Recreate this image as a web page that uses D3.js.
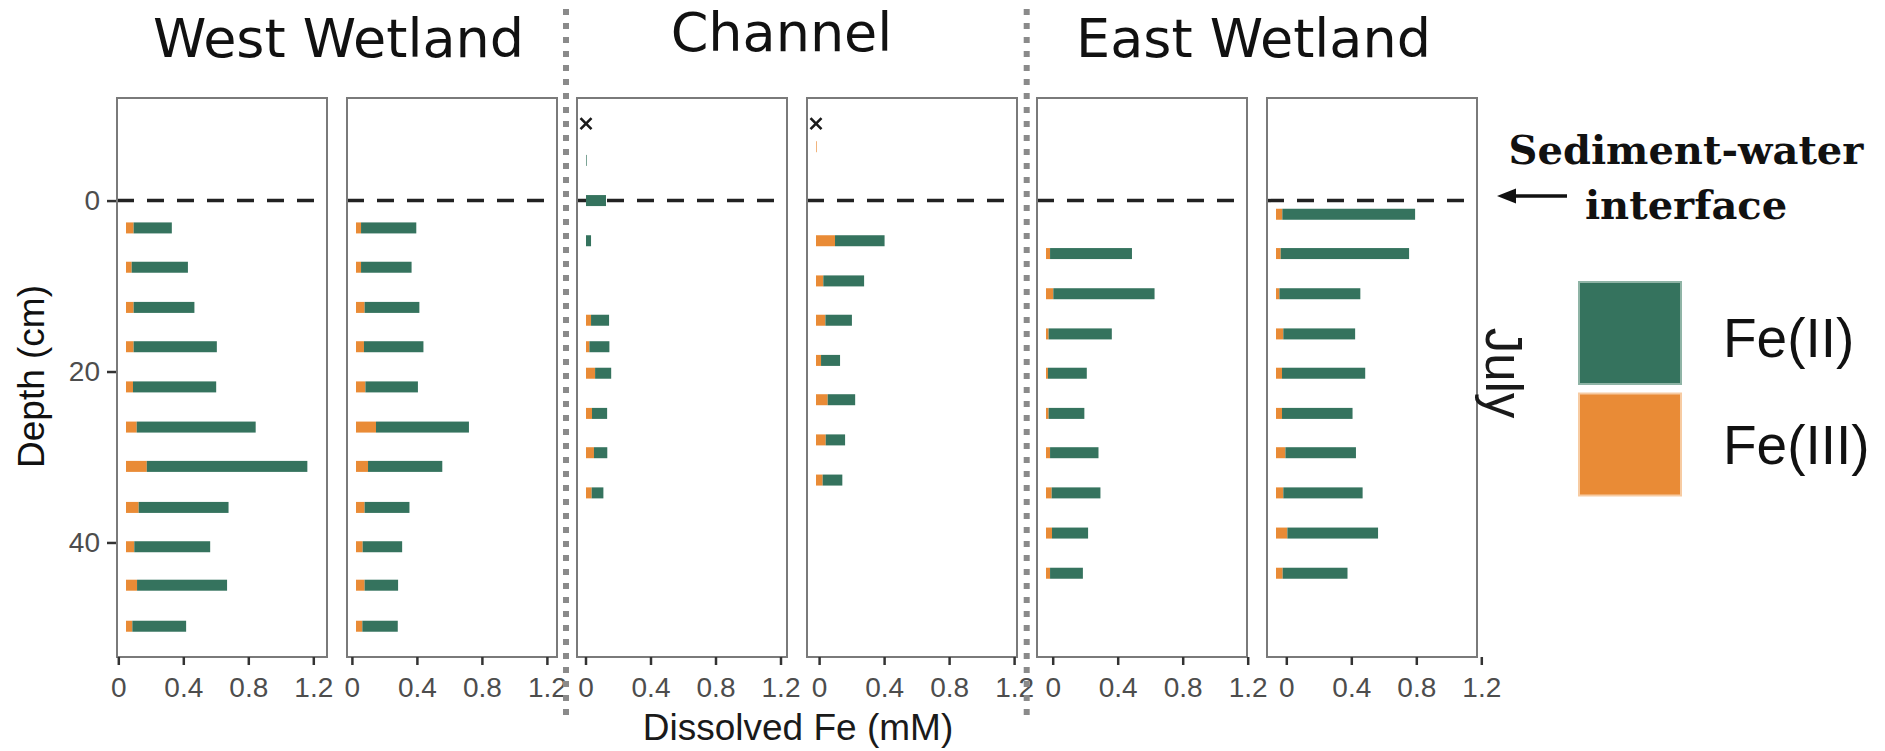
<!DOCTYPE html>
<html>
<head>
<meta charset="utf-8">
<script src="https://cdn.jsdelivr.net/npm/d3@7"></script>
<style>
  body { margin: 0; background: #fff; }
</style>
</head>
<body>
<div id="viz"></div>
<script>
// ---- data ----
const siteNames = ["West Wetland", "Channel", "East Wetland"]
const xTicks = [0, 0.4, 0.8, 1.2]
const yTicks = [0, 20, 40]
const legendLabels = ["Fe(II)", "Fe(III)"]
const seasonLabel = "July"

// West Wetland, core 1
const depthW1 = [3.2, 7.8, 12.5, 17.1, 21.8, 26.5, 31.1, 35.9, 40.5, 45.0, 49.8]
const fe2W1 = [0.235, 0.346, 0.374, 0.512, 0.512, 0.732, 0.988, 0.553, 0.467, 0.554, 0.331]
const fe3W1 = [0.047, 0.035, 0.047, 0.047, 0.043, 0.066, 0.128, 0.078, 0.051, 0.068, 0.039]

// West Wetland, core 2
const depthW2 = [3.2, 7.8, 12.5, 17.1, 21.8, 26.5, 31.1, 35.9, 40.5, 45.0, 49.8]
const fe2W2 = [0.340, 0.311, 0.337, 0.366, 0.323, 0.572, 0.457, 0.276, 0.243, 0.206, 0.218]
const fe3W2 = [0.031, 0.031, 0.053, 0.049, 0.058, 0.123, 0.074, 0.053, 0.041, 0.053, 0.039]

// Channel, core 1
const depthC1 = [-4.7, 0, 4.7, 14.0, 17.1, 20.2, 24.9, 29.5, 34.2]
const fe2C1 = [0.004, 0.123, 0.031, 0.111, 0.123, 0.099, 0.093, 0.082, 0.072]
const fe3C1 = [0, 0, 0, 0.031, 0.021, 0.056, 0.037, 0.049, 0.035]

// Channel, core 2
const depthC2 = [-6.3, 4.7, 9.4, 14.0, 18.7, 23.3, 28.0, 32.7]
const fe2C2 = [0, 0.305, 0.251, 0.163, 0.117, 0.169, 0.119, 0.121]
const fe3C2 = [0.004, 0.117, 0.045, 0.058, 0.031, 0.072, 0.060, 0.041]

// East Wetland, core 1
const depthE1 = [6.2, 10.9, 15.6, 20.2, 24.9, 29.5, 34.2, 38.9, 43.6]
const fe2E1 = [0.504, 0.623, 0.389, 0.239, 0.220, 0.298, 0.300, 0.222, 0.202]
const fe3E1 = [0.025, 0.045, 0.016, 0.012, 0.016, 0.025, 0.035, 0.037, 0.025]

// East Wetland, core 2
const depthE2 = [1.6, 6.2, 10.9, 15.6, 20.2, 24.9, 29.5, 34.2, 38.9, 43.6]
const fe2E2 = [0.817, 0.790, 0.498, 0.442, 0.512, 0.434, 0.434, 0.488, 0.558, 0.399]
const fe3E2 = [0.039, 0.029, 0.021, 0.045, 0.037, 0.037, 0.058, 0.045, 0.070, 0.041]

// samples marked with an x (channel, overlying water)
const markPanel = [2, 3]
const markDepth = [-9, -9]
const markValue = [0, 0]

const panels = [
    { depth: depthW1, fe2: fe2W1, fe3: fe3W1 },
    { depth: depthW2, fe2: fe2W2, fe3: fe3W2 },
    { depth: depthC1, fe2: fe2C1, fe3: fe3C1 },
    { depth: depthC2, fe2: fe2C2, fe3: fe3C2 },
    { depth: depthE1, fe2: fe2E1, fe3: fe3E1 },
    { depth: depthE2, fe2: fe2E2, fe3: fe3E2 }
]

// ---- layout ----
const width = 1885
const height = 751
const green = "#35735e"
const orange = "#e98b36"
const sans = "'Liberation Sans', Arial, sans-serif"

const panelTop = 98
const panelBottom = 657
const panelW = 210
const panelStep = 230
const panelLeft0 = 117
const pxPerMM = 162.5
const barH = 11
// the x axis strip of the original is slightly wider than the panels
const axisLeft0 = 118.3
const axisStep = 233.6

const svg = d3.select("#viz").append("svg")
    .attr("width", width)
    .attr("height", height)
    .style("font-family", sans)

const y = d3.scaleLinear().domain([-12, 53.4]).range([panelTop, panelBottom])

panels.forEach((p, i) => {
    const left = panelLeft0 + i * panelStep
    const x = d3.scaleLinear().domain([0, 1]).range([left + 9, left + 9 + pxPerMM])
    const g = svg.append("g")

    // sediment-water interface
    g.append("line")
        .attr("x1", left).attr("x2", left + panelW)
        .attr("y1", y(0)).attr("y2", y(0))
        .attr("stroke", "#222")
        .attr("stroke-width", 3.5)
        .attr("stroke-dasharray", "17 13")

    const rows = p.depth.map((d, k) => ({ depth: d, fe2: p.fe2[k], fe3: p.fe3[k] }))

    g.selectAll(".fe3").data(rows).join("rect")
        .attr("x", x(0))
        .attr("y", d => y(d.depth) - barH / 2)
        .attr("width", d => x(d.fe3) - x(0))
        .attr("height", barH)
        .attr("fill", orange)

    g.selectAll(".fe2").data(rows).join("rect")
        .attr("x", d => x(d.fe3))
        .attr("y", d => y(d.depth) - barH / 2)
        .attr("width", d => x(d.fe3 + d.fe2) - x(d.fe3))
        .attr("height", barH)
        .attr("fill", green)

    markPanel.forEach((mp, m) => {
        if (mp !== i) return
        const cx = x(markValue[m]), cy = y(markDepth[m]), r = 5.5
        g.append("path")
            .attr("d", `M${cx - r},${cy - r}L${cx + r},${cy + r}M${cx - r},${cy + r}L${cx + r},${cy - r}`)
            .attr("stroke", "#1a1a1a")
            .attr("stroke-width", 2.6)
    })

    g.append("rect")
        .attr("x", left).attr("y", panelTop)
        .attr("width", panelW).attr("height", panelBottom - panelTop)
        .attr("fill", "none")
        .attr("stroke", "#7a7a7a")
        .attr("stroke-width", 2)

    // x axis
    const t0 = axisLeft0 + i * axisStep
    const xa = d3.scaleLinear().domain([0, 1]).range([t0, t0 + pxPerMM])
    const ax = svg.append("g")
        .attr("transform", `translate(0,${panelBottom})`)
        .call(d3.axisBottom(xa).tickValues(xTicks).tickSize(8).tickPadding(12).tickFormat(d3.format("~g")))
    ax.select(".domain").remove()
    ax.selectAll("line").attr("stroke", "#333").attr("stroke-width", 2.5)
    ax.selectAll("text").attr("font-size", 28).attr("fill", "#4d4d4d").style("font-family", sans)
})

// y axis
const ay = svg.append("g")
    .attr("transform", `translate(${panelLeft0 - 1},0)`)
    .call(d3.axisLeft(y).tickValues(yTicks).tickSize(9).tickPadding(7))
ay.select(".domain").remove()
ay.selectAll("line").attr("stroke", "#333").attr("stroke-width", 2.5)
ay.selectAll("text").attr("font-size", 28).attr("fill", "#4d4d4d").style("font-family", sans)

svg.append("text")
    .text("Depth (cm)")
    .attr("transform", "translate(44,376.5) rotate(-90)")
    .attr("text-anchor", "middle")
    .attr("font-size", 37)
    .attr("fill", "#111")

svg.append("text")
    .text("Dissolved Fe (mM)")
    .attr("x", 798).attr("y", 740)
    .attr("text-anchor", "middle")
    .attr("font-size", 37)
    .attr("fill", "#1a1a1a")

// site titles
const titleX = [338.5, 781.5, 1253.5]
const titleY = [57, 51, 57]
siteNames.forEach((s, k) => {
    svg.append("text")
        .text(s)
        .attr("x", titleX[k]).attr("y", titleY[k])
        .attr("text-anchor", "middle")
        .attr("font-size", 54)
        .attr("fill", "#111")
        .style("font-family", "'DejaVu Sans', Verdana, sans-serif")
})

// dotted separators between sites
;[566, 1026.7].forEach(sx => {
    svg.append("line")
        .attr("x1", sx).attr("x2", sx)
        .attr("y1", 9).attr("y2", 718)
        .attr("stroke", "#8a8a8a")
        .attr("stroke-width", 6)
        .attr("stroke-dasharray", "6 8")
})

// interface annotation: arrow pointing left at the dashed line
const arrowY = 196
svg.append("line")
    .attr("x1", 1510).attr("x2", 1567)
    .attr("y1", arrowY).attr("y2", arrowY)
    .attr("stroke", "#111")
    .attr("stroke-width", 3.6)
svg.append("path")
    .attr("d", `M1497,${arrowY}L1516,${arrowY - 7.5}L1516,${arrowY + 7.5}Z`)
    .attr("fill", "#111")

const annot = svg.append("text")
    .attr("text-anchor", "middle")
    .attr("font-size", 40)
    .attr("font-weight", "bold")
    .attr("fill", "#111")
    .style("font-family", "'DejaVu Serif', serif")
annot.append("tspan").attr("x", 1686).attr("y", 164).text("Sediment-water")
annot.append("tspan").attr("x", 1686).attr("y", 219).text("interface")

// season strip label
svg.append("text")
    .text(seasonLabel)
    .attr("transform", "translate(1486,373) rotate(90)")
    .attr("text-anchor", "middle")
    .attr("font-size", 51)
    .attr("fill", "#1a1a1a")

// legend
const legendFill = [green, orange]
const legendEdge = ["#8fb4a6", "#f7cba2"]
const legendTop = [282, 393.5]
const legendBase = [357, 464]
legendLabels.forEach((lab, k) => {
    svg.append("rect")
        .attr("x", 1579).attr("y", legendTop[k])
        .attr("width", 102).attr("height", 102)
        .attr("fill", legendFill[k])
        .attr("stroke", legendEdge[k])
        .attr("stroke-width", 2)
    svg.append("text")
        .text(lab)
        .attr("x", 1723).attr("y", legendBase[k])
        .attr("font-size", 55)
        .attr("fill", "#111")
})
</script>
</body>
</html>
